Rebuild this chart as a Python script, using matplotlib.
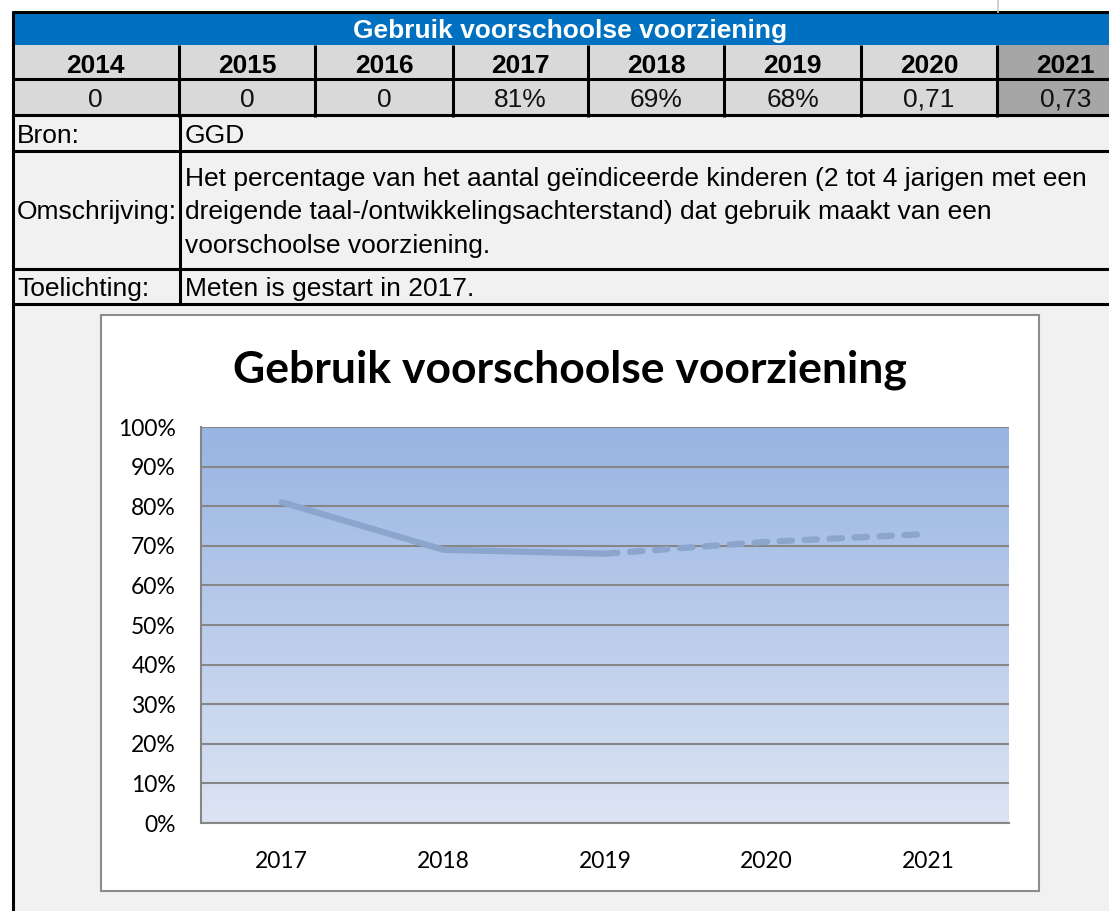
import numpy as np
import matplotlib.pyplot as plt
from matplotlib.patches import Rectangle

W, H = 1109, 911

# table data
table_title = "Gebruik voorschoolse voorziening"
table_years = ["2014", "2015", "2016", "2017", "2018", "2019", "2020", "2021"]
table_values = ["0", "0", "0", "81%", "69%", "68%", "0,71", "0,73"]
bron = "GGD"
omschrijving = [
    "Het percentage van het aantal geïndiceerde kinderen (2 tot 4 jarigen met een",
    "dreigende taal-/ontwikkelingsachterstand) dat gebruik maakt van een",
    "voorschoolse voorziening.",
]
toelichting = "Meten is gestart in 2017."

# chart data
chart_years = ["2017", "2018", "2019", "2020", "2021"]
chart_values = [0.81, 0.69, 0.68, 0.71, 0.73]
n_measured = 3  # 2017-2019 solid, rest dashed

col_edges = [12, 179, 315, 453, 588, 724, 861, 997, 1134]

fig = plt.figure(figsize=(W / 100, H / 100), dpi=100)
fig.patch.set_facecolor("white")

# ---- spreadsheet part, drawn in pixel coords
bg = fig.add_axes([0, 0, 1, 1])
bg.set_xlim(0, W)
bg.set_ylim(H, 0)
bg.axis("off")

lw = 2.2
fs = 19
bg.add_patch(Rectangle((12, 12), W, H, fc="#f1f1f1", ec="none"))
bg.add_patch(Rectangle((12, 12), W, 33, fc="#0070c0", ec="none"))
for i in range(len(table_years)):
    x0, x1 = col_edges[i], col_edges[i + 1]
    fc = "#a6a6a6" if i == len(table_years) - 1 else "#d9d9d9"
    bg.add_patch(Rectangle((x0, 45), x1 - x0, 70, fc=fc, ec="none"))
    xc = (x0 + x1) / 2
    bg.text(xc, 73, table_years[i], ha="center", va="baseline",
            fontsize=fs, fontweight="bold", family="Liberation Sans")
    bg.text(xc, 107, table_values[i], ha="center", va="baseline",
            fontsize=fs, family="Liberation Sans", color="#111111")
    if i > 0:
        bg.plot([x0, x0], [45, 117], color="black", lw=lw, solid_capstyle="butt")

bg.text(570, 38, table_title, ha="center", va="baseline", color="white",
        fontsize=fs, fontweight="bold", family="Liberation Sans")

# horizontal rules
for y in [12, 78.5, 115, 150.5, 268.5, 303.5]:
    bg.plot([12, W], [y, y], color="black", lw=lw, solid_capstyle="butt")
bg.plot([12.5, 12.5], [11, H], color="black", lw=lw, solid_capstyle="butt")
bg.plot([180, 180], [115, 304], color="black", lw=lw, solid_capstyle="butt")
bg.plot([998, 998], [0, 12], color="#c8c8c8", lw=1.2)

txt = dict(fontsize=fs, family="Liberation Sans", va="baseline", color="black")
bg.text(17, 143, "Bron:", **txt)
bg.text(185, 143, bron, **txt)
bg.text(17, 219, "Omschrijving:", **txt)
for j, line in enumerate(omschrijving):
    bg.text(185, 186 + j * 33.5, line, **txt)
bg.text(17, 296, "Toelichting:", **txt)
bg.text(185, 296, toelichting, **txt)

# chart box
bg.add_patch(Rectangle((101, 315), 938, 576, fc="white", ec="#8c8c8c", lw=1.5))
bg.text(570, 382, "Gebruik voorschoolse voorziening", ha="center", va="baseline",
        fontsize=32, fontweight="bold", family="Lato")

# ---- line chart
pl, pt, pr, pb = 201, 427, 1009, 823
ax = fig.add_axes([pl / W, (H - pb) / H, (pr - pl) / W, (pb - pt) / H])
x = np.arange(len(chart_years))

grad = np.linspace(0, 1, 256)
top = np.array([152, 180, 226]) / 255
bot = np.array([221, 228, 243]) / 255
img = (top + (bot - top) * grad[:, None]).reshape(256, 1, 3)
ax.imshow(img, extent=(-0.5, len(x) - 0.5, 0, 1), origin="upper",
          aspect="auto", zorder=0)

ax.set_xlim(-0.5, len(x) - 0.5)
ax.set_ylim(0, 1)
ticks = np.arange(0, 1.01, 0.1)
ax.set_yticks(ticks)
ax.set_yticklabels([f"{int(round(v * 100))}%" for v in ticks])
ax.set_xticks(x)
ax.set_xticklabels(chart_years)
ax.grid(axis="y", color="#868686", lw=1.5, zorder=1)
ax.set_axisbelow(True)
ax.tick_params(length=0, labelsize=16.5)
ax.tick_params(axis="y", pad=18)
ax.tick_params(axis="x", pad=20)
for lab in ax.get_xticklabels() + ax.get_yticklabels():
    lab.set_family("Lato")
for s in ["top", "right"]:
    ax.spines[s].set_visible(False)
for s in ["left", "bottom"]:
    ax.spines[s].set_color("#868686")
    ax.spines[s].set_linewidth(1.5)

lc = "#8ca5cd"
ax.plot(x[:n_measured], chart_values[:n_measured], color=lc, lw=4.5,
        solid_capstyle="round", solid_joinstyle="round", zorder=3)
ax.plot(x[n_measured - 1:], chart_values[n_measured - 1:], color=lc, lw=4.5,
        dashes=(2.0, 2.0), dash_capstyle="round", zorder=3)

plt.savefig("out.png", dpi=100)
